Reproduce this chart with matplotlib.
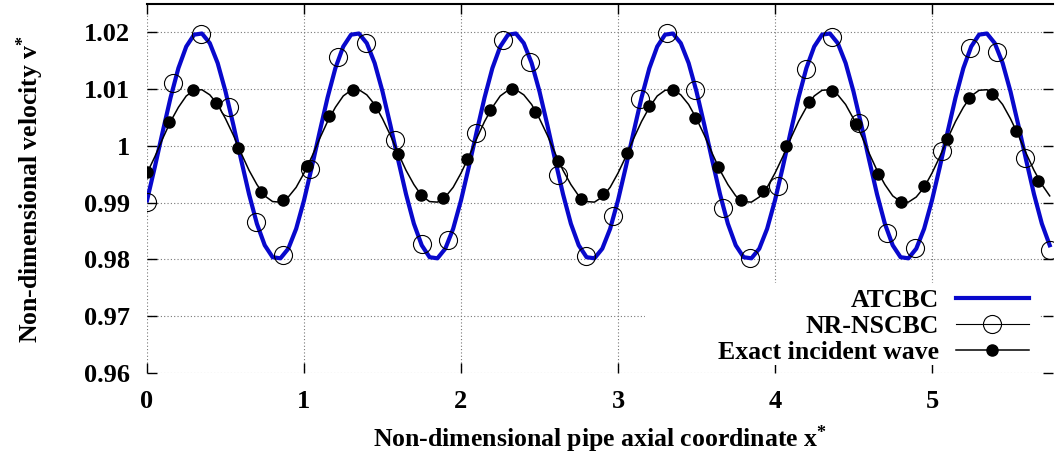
import numpy as np
import matplotlib
matplotlib.use('Agg')
import matplotlib.pyplot as plt
from matplotlib.lines import Line2D
from matplotlib.patches import Rectangle

plt.rcParams['font.family'] = 'Liberation Serif'
plt.rcParams['font.weight'] = 'bold'
plt.rcParams['mathtext.fontset'] = 'custom'
plt.rcParams['mathtext.rm'] = 'Liberation Serif:bold'
plt.rcParams['mathtext.it'] = 'Liberation Serif:bold'
plt.rcParams['mathtext.bf'] = 'Liberation Serif:bold'

# ATCBC and exact incident wave, read every 0.05 along x
x_line = np.linspace(0.0, 5.75, 116)
atcbc_v = [
    0.9904, 0.9963, 1.0025, 1.0085, 1.0137, 1.0175, 1.0196, 1.0198, 1.0181, 1.0146,
    1.0096, 1.0037, 0.9975, 0.9915, 0.9863, 0.9825, 0.9804, 0.9802, 0.9819, 0.9854,
    0.9904, 0.9963, 1.0025, 1.0085, 1.0137, 1.0175, 1.0196, 1.0198, 1.0181, 1.0146,
    1.0096, 1.0037, 0.9975, 0.9915, 0.9863, 0.9825, 0.9804, 0.9802, 0.9819, 0.9854,
    0.9904, 0.9963, 1.0025, 1.0085, 1.0137, 1.0175, 1.0196, 1.0198, 1.0181, 1.0146,
    1.0096, 1.0037, 0.9975, 0.9915, 0.9863, 0.9825, 0.9804, 0.9802, 0.9819, 0.9854,
    0.9904, 0.9963, 1.0025, 1.0085, 1.0137, 1.0175, 1.0196, 1.0198, 1.0181, 1.0146,
    1.0096, 1.0037, 0.9975, 0.9915, 0.9863, 0.9825, 0.9804, 0.9802, 0.9819, 0.9854,
    0.9904, 0.9963, 1.0025, 1.0085, 1.0137, 1.0175, 1.0196, 1.0198, 1.0181, 1.0146,
    1.0096, 1.0037, 0.9975, 0.9915, 0.9863, 0.9825, 0.9804, 0.9802, 0.9819, 0.9854,
    0.9904, 0.9963, 1.0025, 1.0085, 1.0137, 1.0175, 1.0196, 1.0198, 1.0181, 1.0146,
    1.0096, 1.0037, 0.9975, 0.9915, 0.9863, 0.9825,
]
exact_v = [
    0.9952, 0.9981, 1.0013, 1.0043, 1.0068, 1.0088, 1.0098, 1.0099, 1.0090, 1.0073,
    1.0048, 1.0019, 0.9987, 0.9957, 0.9932, 0.9912, 0.9902, 0.9901, 0.9910, 0.9927,
    0.9952, 0.9981, 1.0013, 1.0043, 1.0068, 1.0088, 1.0098, 1.0099, 1.0090, 1.0073,
    1.0048, 1.0019, 0.9987, 0.9957, 0.9932, 0.9912, 0.9902, 0.9901, 0.9910, 0.9927,
    0.9952, 0.9981, 1.0013, 1.0043, 1.0068, 1.0088, 1.0098, 1.0099, 1.0090, 1.0073,
    1.0048, 1.0019, 0.9987, 0.9957, 0.9932, 0.9912, 0.9902, 0.9901, 0.9910, 0.9927,
    0.9952, 0.9981, 1.0013, 1.0043, 1.0068, 1.0088, 1.0098, 1.0099, 1.0090, 1.0073,
    1.0048, 1.0019, 0.9987, 0.9957, 0.9932, 0.9912, 0.9902, 0.9901, 0.9910, 0.9927,
    0.9952, 0.9981, 1.0013, 1.0043, 1.0068, 1.0088, 1.0098, 1.0099, 1.0090, 1.0073,
    1.0048, 1.0019, 0.9987, 0.9957, 0.9932, 0.9912, 0.9902, 0.9901, 0.9910, 0.9927,
    0.9952, 0.9981, 1.0013, 1.0043, 1.0068, 1.0088, 1.0098, 1.0099, 1.0090, 1.0073,
    1.0048, 1.0019, 0.9987, 0.9957, 0.9932, 0.9912,
]

# NR-NSCBC samples (open circles)
nr_x = [0.0, 0.168, 0.344, 0.522, 0.694, 0.868, 1.038, 1.219, 1.395, 1.580,
        1.750, 1.919, 2.095, 2.270, 2.439, 2.620, 2.796, 2.970, 3.140, 3.314,
        3.490, 3.671, 3.841, 4.021, 4.196, 4.361, 4.537, 4.711, 4.892, 5.066,
        5.242, 5.412, 5.592, 5.752]
nr_v = [0.9901, 1.0111, 1.0198, 1.0068, 0.9866, 0.9807, 0.9960, 1.0157, 1.0182, 1.0010,
        0.9827, 0.9834, 1.0022, 1.0187, 1.0148, 0.9948, 0.9806, 0.9876, 1.0082, 1.0199,
        1.0099, 0.9891, 0.9802, 0.9929, 1.0136, 1.0192, 1.0040, 0.9846, 0.9820, 0.9991,
        1.0173, 1.0165, 0.9979, 0.9816]

# exact incident wave sample points (filled dots)
ex_x = [0.0, 0.142, 0.291, 0.437, 0.578, 0.726, 0.868, 1.017, 1.159, 1.310,
        1.452, 1.597, 1.745, 1.887, 2.036, 2.185, 2.323, 2.471, 2.616, 2.764,
        2.906, 3.055, 3.199, 3.348, 3.492, 3.639, 3.783, 3.926, 4.070, 4.215,
        4.361, 4.516, 4.654, 4.803, 4.949, 5.094, 5.238, 5.384, 5.533, 5.677]
ex_v = [0.9954, 1.0042, 1.0098, 1.0076, 0.9996, 0.9919, 0.9904, 0.9965, 1.0053, 1.0099,
        1.0069, 0.9985, 0.9913, 0.9909, 0.9977, 1.0063, 1.0100, 1.0060, 0.9973, 0.9907,
        0.9916, 0.9988, 1.0071, 1.0099, 1.0050, 0.9962, 0.9904, 0.9921, 1.0000, 1.0078,
        1.0097, 1.0038, 0.9951, 0.9901, 0.9929, 1.0013, 1.0085, 1.0092, 1.0027, 0.9939]

xticks = [0, 1, 2, 3, 4, 5]
yticks = [0.96, 0.97, 0.98, 0.99, 1.0, 1.01, 1.02]
ytick_labels = ['0.96', '0.97', '0.98', '0.99', '1', '1.01', '1.02']

blue = '#0808cc'

fig = plt.figure(figsize=(10.55, 4.59), dpi=100)
ax = fig.add_axes([147/1055., 1-373/459., 906/1055., 369/459.])

ax.plot(x_line, atcbc_v, '-', color=blue, lw=3.0, zorder=3)
ax.plot(nr_x, nr_v, 'o', ms=13, mfc='none', mec='black', mew=0.8, zorder=4)
ax.plot(x_line, exact_v, '-', color='black', lw=1.1, zorder=5)
ax.plot(ex_x, ex_v, 'o', ms=8, color='black', zorder=6)

ax.set_xlim(0, 5.771)
ax.set_ylim(0.96, 1.025)
ax.set_xticks(xticks)
ax.set_yticks(yticks)
ax.set_yticklabels(ytick_labels)

ax.grid(True, color='#777777', linestyle=(0, (1, 2)), lw=0.8, zorder=0)
ax.set_axisbelow(True)

for s in ['left', 'bottom', 'right']:
    ax.spines[s].set_visible(False)
ax.spines['top'].set_linewidth(1.5)

ax.tick_params(direction='in', length=7, width=1.0, top=True, right=True,
               labelsize=19)
ax.tick_params(axis='x', pad=12)
ax.tick_params(axis='y', pad=12)

# white box behind the key hides the grid like gnuplot does
ax.add_patch(Rectangle((0.5497, 0.0217), 0.436, 0.2222, transform=ax.transAxes,
                       facecolor='white', edgecolor='none', zorder=1))

handles = [Line2D([], [], color=blue, lw=3.0),
           Line2D([], [], color='black', lw=0.8, marker='o', ms=13, mfc='none', mec='black', mew=0.8),
           Line2D([], [], color='black', lw=1.1, marker='o', ms=8)]
ax.legend(handles, ['ATCBC', 'NR-NSCBC', 'Exact incident wave'],
          loc='lower right', bbox_to_anchor=(0.9735, 0.025), frameon=False,
          markerfirst=False, numpoints=1, handlelength=2.85, handletextpad=0.66,
          labelspacing=0.12, borderpad=0, borderaxespad=0, fontsize=18.5)

ax.set_xlabel(r'Non-dimensional pipe axial coordinate x$^{*}$', fontsize=18.5, fontweight='bold')
ax.set_ylabel(r'Non-dimensional velocity v$^{*}$', fontsize=18.5, fontweight='bold')
ax.xaxis.set_label_coords(0.5, -0.138)
ax.yaxis.set_label_coords(-0.111, 0.5)

fig.savefig('out.png', dpi=100)
